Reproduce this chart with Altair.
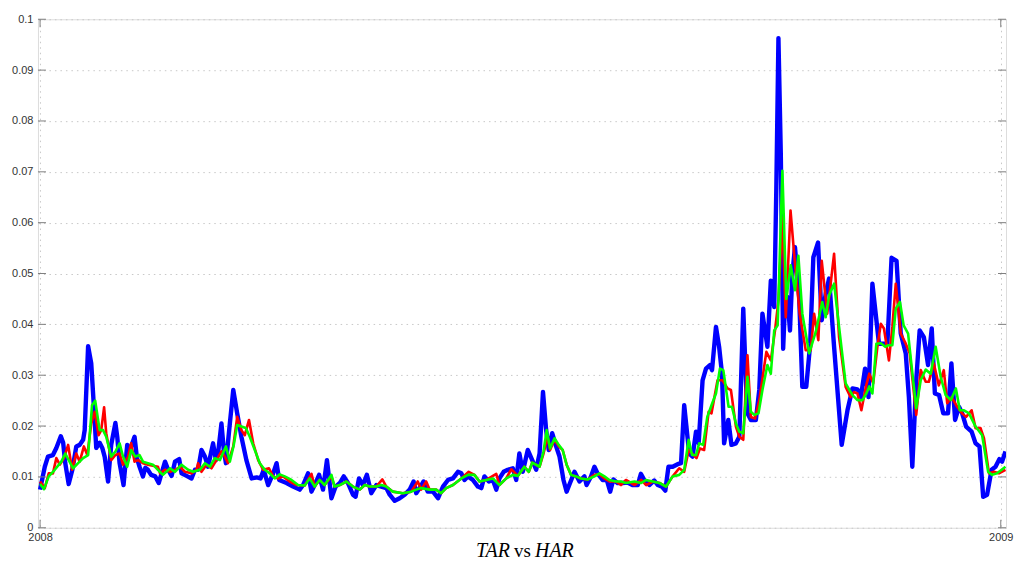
import altair as alt
import pandas as pd

# x = trading day position in days since 2008-01-01, y = volatility value
blue_day = [0, 1.8, 3.0, 4.9, 6.2, 7.9, 8.8, 9.6, 10.9, 12.3, 13.8, 15.1, 16.4, 17.0, 18.3, 19.5, 20.5, 21.4,
            22.7, 23.7, 24.6, 25.9, 27.1, 28.7, 29.4, 30.3, 31.8, 33.2, 33.8, 34.7, 36.0, 36.9, 37.9, 39.2, 40.1,
            41.1, 42.3, 43.9, 45.2, 47.6, 48.8, 50.1, 51.4, 53.0, 53.9, 55.8, 57.7, 59.0, 60.2, 61.5, 62.8, 64.0,
            65.9, 67.0, 67.8, 69.1, 70.0, 70.8, 72.3, 73.6, 75.1, 76.7, 78.6, 80.6, 82.5, 84.0, 85.2, 86.9, 88.8,
            90.1, 91.1, 93.9, 96.4, 98.9, 100.2, 102.1, 103.4, 104.6, 106.3, 107.8, 109.3, 111.0, 112.6, 114.2,
            115.7, 117.3, 119.2, 120.2, 121.5, 123.0, 124.5, 126.2, 128.1, 130.0, 131.9, 133.2, 135.1, 137.0,
            138.9, 140.8, 142.3, 143.3, 144.6, 146.1, 147.7, 149.7, 151.6, 153.5, 155.4, 157.3, 159.2, 160.5,
            161.7, 163.0, 164.9, 166.8, 168.1, 169.3, 171.0, 172.5, 173.8, 175.0, 176.6, 178.2, 180.1, 181.4,
            182.6, 183.9, 185.8, 187.5, 189.0, 190.3, 191.6, 192.8, 193.8, 195.1, 196.6, 197.9, 199.4, 200.6,
            201.9, 203.6, 205.5, 207.4, 208.2, 209.9, 211.2, 212.4, 214.3, 215.9, 217.2, 218.4, 220.0, 221.9,
            223.8, 225.7, 227.7, 228.9, 230.2, 232.1, 234.0, 235.3, 236.9, 238.2, 239.4, 241.0, 242.9, 244.2,
            245.4, 247.3, 248.6, 249.9, 250.9, 252.4, 253.7, 255.2, 256.0, 257.5, 258.7, 259.8, 260.6, 262.2,
            263.4, 265.1, 266.4, 267.9, 268.9, 269.5, 270.8, 272.7, 274.0, 275.2, 277.1, 278.4, 279.7, 280.5,
            281.3, 282.2, 283.1, 283.9, 284.7, 285.7, 286.6, 287.6, 289.2, 290.4, 291.9, 293.4, 294.6, 296.4,
            297.8, 299.3, 300.6, 302.5, 305.4, 307.6, 309.5, 311.4, 312.7, 314.3, 315.6, 317.1, 319.6, 322.8,
            324.4, 326.3, 327.9, 329.8, 331.0, 332.3, 333.8, 335.1, 336.7, 338.3, 339.7, 340.9, 342.5, 344.1,
            345.9, 347.2, 348.6, 350.1, 351.3, 352.8, 354.9, 356.4, 357.9, 359.3, 360.8, 362.5, 364.0, 365.5,
            366.5, 367.8]
blue_val = [0.0075, 0.012, 0.014, 0.0143, 0.0157, 0.018, 0.0167, 0.0127, 0.0086, 0.0114, 0.016, 0.0163, 0.0173,
            0.0192, 0.0357, 0.0323, 0.0238, 0.0157, 0.0167, 0.0157, 0.014, 0.0091, 0.0163, 0.0206, 0.0179, 0.0127,
            0.0084, 0.0163, 0.014, 0.016, 0.0179, 0.0137, 0.012, 0.0101, 0.0118, 0.0114, 0.0104, 0.0101, 0.0088,
            0.013, 0.0114, 0.0102, 0.013, 0.0135, 0.0107, 0.0102, 0.0097, 0.0114, 0.0114, 0.0153, 0.014, 0.012,
            0.0166, 0.0133, 0.0146, 0.0205, 0.0153, 0.0127, 0.0205, 0.0271, 0.0225, 0.0179, 0.0133, 0.0097, 0.0099,
            0.0097, 0.0114, 0.0084, 0.0107, 0.0127, 0.0094, 0.0088, 0.0081, 0.0075, 0.0084, 0.0107, 0.0071, 0.0084,
            0.0104, 0.0075, 0.0133, 0.0058, 0.0081, 0.0088, 0.0101, 0.0088, 0.0065, 0.0061, 0.0097, 0.0084, 0.0104,
            0.0068, 0.0084, 0.0081, 0.0078, 0.0065, 0.0053, 0.0058, 0.0065, 0.0075, 0.0091, 0.0068, 0.0078, 0.0091,
            0.0071, 0.0071, 0.0058, 0.0081, 0.0094, 0.0097, 0.011, 0.0107, 0.0094, 0.0101, 0.0094, 0.0081, 0.0078,
            0.0101, 0.0091, 0.0094, 0.0075, 0.0097, 0.011, 0.0114, 0.0117, 0.0094, 0.0146, 0.011, 0.0153, 0.0133,
            0.0114, 0.0146, 0.0267, 0.0192, 0.0153, 0.0186, 0.016, 0.014, 0.0094, 0.0071, 0.0088, 0.011, 0.0091,
            0.0101, 0.0084, 0.0101, 0.012, 0.0107, 0.0094, 0.0094, 0.0071, 0.0095, 0.0088, 0.0088, 0.0089, 0.0084,
            0.0084, 0.0106, 0.0094, 0.0084, 0.0093, 0.0084, 0.0081, 0.0073, 0.012, 0.012, 0.0125, 0.0127, 0.0241,
            0.0146, 0.014, 0.0189, 0.0166, 0.029, 0.0313, 0.032, 0.031, 0.0395, 0.0356, 0.0303, 0.0166, 0.0212,
            0.0163, 0.0166, 0.0179, 0.0431, 0.029, 0.0225, 0.0212, 0.0212, 0.0271, 0.0421, 0.0356, 0.0486, 0.0434,
            0.0669, 0.0963, 0.0735, 0.0352, 0.0454, 0.0454, 0.0388, 0.0499, 0.0552, 0.0454, 0.0277, 0.0277, 0.0362,
            0.0532, 0.0561, 0.0408, 0.046, 0.049, 0.0356, 0.0163, 0.0231, 0.0274, 0.0272, 0.0257, 0.0313, 0.0257,
            0.048, 0.0362, 0.0362, 0.0531, 0.0525, 0.0382, 0.0343, 0.0257, 0.012, 0.029, 0.0388, 0.0375, 0.032,
            0.0392, 0.0264, 0.0261, 0.0225, 0.0225, 0.0323, 0.0212, 0.0238, 0.0225, 0.0199, 0.0189, 0.0166, 0.016,
            0.0061, 0.0065, 0.0114, 0.012, 0.0135, 0.013, 0.015]

red_day = [0, 1.8, 3.3, 4.9, 6.2, 7.5, 9.1, 10.7, 12.2, 13.8, 15.1, 16.7, 18.0, 19.5, 20.8, 22.3, 23.3, 24.4,
           25.2, 27.1, 28.7, 30.3, 31.6, 33.5, 34.7, 36.0, 37.3, 39.2, 41.1, 43.0, 44.9, 45.7, 47.6, 49.5, 51.4,
           53.3, 55.2, 57.7, 59.6, 60.2, 61.5, 63.4, 65.3, 67.2, 69.1, 70.4, 71.6, 73.6, 75.1, 76.7, 78.0, 79.6,
           81.2, 83.1, 85.0, 87.2, 88.8, 90.7, 92.6, 95.1, 97.7, 100.8, 103.4, 104.6, 106.5, 108.4, 111.0, 112.2,
           114.2, 116.7, 119.2, 121.8, 123.7, 125.6, 128.1, 130.4, 131.9, 134.4, 138.2, 141.4, 143.9, 145.2,
           147.1, 148.4, 150.9, 152.8, 154.7, 157.3, 160.5, 163.3, 165.5, 167.4, 170.0, 173.8, 175.0, 177.6,
           179.5, 182.0, 184.5, 186.2, 187.5, 190.3, 191.8, 193.4, 194.3, 196.0, 197.6, 199.1, 200.6, 202.3,
           204.2, 206.1, 208.6, 211.2, 213.1, 215.0, 216.9, 219.4, 221.3, 223.2, 226.5, 229.0, 230.9, 233.4,
           236.0, 238.5, 241.0, 243.5, 245.4, 247.1, 248.4, 250.1, 251.4, 253.0, 254.7, 255.8, 258.1, 260.0,
           261.9, 263.2, 265.1, 266.4, 267.9, 269.5, 270.8, 272.4, 274.0, 276.7, 278.4, 280.1, 281.3, 282.8,
           284.1, 285.9, 287.6, 289.4, 291.7, 293.6, 294.9, 296.5, 297.8, 299.9, 302.5, 304.4, 306.9, 308.8,
           310.1, 311.4, 312.9, 314.6, 315.9, 317.4, 319.0, 320.3, 321.5, 323.4, 324.7, 326.0, 327.9, 329.8,
           331.3, 333.8, 335.5, 337.4, 338.6, 340.5, 342.4, 344.3, 345.6, 347.3, 349.4, 351.3, 352.8, 354.9,
           356.4, 358.3, 359.6, 361.5, 363.4, 365.3, 367.8]
red_val = [0.0091, 0.0078, 0.0107, 0.0107, 0.0137, 0.0124, 0.0137, 0.0163, 0.0114, 0.0146, 0.013, 0.016, 0.0143,
           0.0205, 0.0228, 0.0182, 0.0192, 0.0237, 0.0186, 0.0133, 0.0143, 0.0146, 0.0124, 0.014, 0.0166, 0.013,
           0.0133, 0.0127, 0.0124, 0.0122, 0.012, 0.0107, 0.0114, 0.011, 0.0114, 0.012, 0.011, 0.0107, 0.0114,
           0.0127, 0.011, 0.0124, 0.0117, 0.0133, 0.015, 0.014, 0.0127, 0.016, 0.0218, 0.0192, 0.0182, 0.0212,
           0.0166, 0.0133, 0.0114, 0.0117, 0.0101, 0.0097, 0.0101, 0.0091, 0.0084, 0.0083, 0.0106, 0.0081, 0.0094,
           0.0084, 0.0101, 0.0081, 0.0084, 0.0091, 0.0081, 0.0075, 0.0084, 0.0081, 0.0081, 0.0095, 0.0081, 0.0071,
           0.0068, 0.0071, 0.0091, 0.0075, 0.0091, 0.0075, 0.0075, 0.0068, 0.0078, 0.0084, 0.0097, 0.011, 0.0104,
           0.0091, 0.0094, 0.0106, 0.0084, 0.0097, 0.0115, 0.0102, 0.012, 0.011, 0.0128, 0.012, 0.0146, 0.0179,
           0.0153, 0.0173, 0.016, 0.0153, 0.0124, 0.0104, 0.0101, 0.0097, 0.0095, 0.0104, 0.0105, 0.0097, 0.0091,
           0.0091, 0.0084, 0.0094, 0.0084, 0.0094, 0.0084, 0.0091, 0.0088, 0.0081, 0.0101, 0.0117, 0.011, 0.0153,
           0.0146, 0.0137, 0.0156, 0.0153, 0.0228, 0.0225, 0.029, 0.029, 0.0274, 0.0271, 0.0199, 0.0179, 0.0173,
           0.0339, 0.0218, 0.0215, 0.0251, 0.0346, 0.0329, 0.0392, 0.0447, 0.061, 0.0414, 0.0624, 0.0519, 0.0421,
           0.0349, 0.0349, 0.0421, 0.0369, 0.0525, 0.0421, 0.0539, 0.0375, 0.0277, 0.0257, 0.0267, 0.0264, 0.0231,
           0.0277, 0.0303, 0.0284, 0.0356, 0.0401, 0.0392, 0.0329, 0.0395, 0.048, 0.0382, 0.0362, 0.0343, 0.0222,
           0.031, 0.0287, 0.0287, 0.0323, 0.028, 0.031, 0.0245, 0.0257, 0.0238, 0.0225, 0.0218, 0.0231, 0.0196,
           0.0196, 0.0176, 0.0107, 0.011, 0.0107, 0.0114]

green_day = [0, 1.5, 3.3, 5.6, 8.1, 9.6, 10.9, 12.6, 14.5, 16.4, 18.3, 19.8, 21.0, 22.7, 24.0, 25.2, 27.1, 28.7,
             30.3, 31.6, 33.2, 34.7, 36.3, 37.9, 39.2, 41.1, 43.0, 44.9, 46.8, 48.1, 49.5, 51.4, 53.9, 56.4, 58.3,
             60.9, 62.8, 64.7, 66.6, 68.5, 70.8, 72.3, 73.8, 75.1, 76.7, 78.4, 79.9, 81.8, 83.7, 85.6, 87.5, 89.4,
             91.3, 93.2, 95.8, 98.3, 100.8, 102.7, 104.6, 106.5, 108.4, 111.0, 112.2, 114.2, 116.7, 119.2, 121.8,
             123.7, 125.6, 128.1, 130.0, 131.9, 134.4, 138.2, 141.4, 143.3, 145.2, 148.4, 150.9, 152.8, 154.7,
             157.3, 160.5, 163.0, 165.5, 167.4, 170.0, 172.5, 175.0, 177.6, 180.1, 182.0, 184.5, 186.2, 187.5,
             190.3, 191.8, 193.0, 194.3, 196.0, 197.6, 199.1, 200.6, 202.3, 204.2, 206.1, 208.6, 211.2, 213.1,
             215.0, 216.9, 219.4, 221.3, 223.2, 226.5, 229.0, 230.9, 233.4, 236.0, 238.5, 241.0, 243.5, 245.4,
             247.1, 248.4, 249.9, 251.1, 252.6, 254.2, 255.8, 257.5, 259.0, 260.3, 261.3, 262.3, 263.6, 265.1,
             266.4, 267.9, 269.5, 270.8, 272.1, 273.7, 275.2, 277.1, 278.4, 279.7, 281.0, 282.8, 284.3, 286.0,
             287.6, 288.9, 290.4, 293.0, 295.5, 298.0, 299.3, 300.6, 302.5, 304.4, 306.9, 309.5, 311.4, 313.3,
             314.8, 315.9, 317.1, 318.6, 320.3, 322.0, 323.2, 324.7, 326.0, 327.6, 329.0, 330.7, 332.2, 333.8,
             335.5, 337.4, 339.3, 341.2, 343.1, 345.0, 347.0, 348.9, 350.4, 352.0, 353.9, 356.4, 358.9, 361.2,
             362.7, 364.6, 367.8]
green_val = [0.0086, 0.0076, 0.0101, 0.0114, 0.013, 0.0146, 0.0133, 0.0117, 0.0127, 0.0137, 0.0143, 0.0241, 0.025,
             0.0192, 0.0192, 0.0179, 0.014, 0.015, 0.0166, 0.014, 0.012, 0.0153, 0.014, 0.0143, 0.013, 0.0127,
             0.0124, 0.0114, 0.0104, 0.011, 0.0117, 0.011, 0.0124, 0.0114, 0.011, 0.0114, 0.0127, 0.012, 0.0137,
             0.0133, 0.016, 0.013, 0.0163, 0.0202, 0.0199, 0.0196, 0.0179, 0.0153, 0.0127, 0.0114, 0.0107, 0.0097,
             0.0105, 0.0101, 0.0094, 0.0084, 0.0083, 0.0097, 0.0081, 0.0094, 0.0084, 0.0104, 0.0081, 0.0084, 0.0091,
             0.0081, 0.0075, 0.0084, 0.0081, 0.0081, 0.0084, 0.0081, 0.0071, 0.0068, 0.0071, 0.0075, 0.0078, 0.0075,
             0.0075, 0.0068, 0.0078, 0.0084, 0.0097, 0.0104, 0.0104, 0.0091, 0.0094, 0.0097, 0.0084, 0.0097, 0.0104,
             0.0102, 0.012, 0.011, 0.0128, 0.012, 0.015, 0.0192, 0.0156, 0.0176, 0.0163, 0.0153, 0.0124, 0.0104,
             0.0101, 0.0097, 0.0095, 0.0101, 0.0107, 0.0101, 0.0094, 0.0091, 0.0091, 0.0088, 0.0091, 0.0088, 0.0094,
             0.0091, 0.0088, 0.0081, 0.0101, 0.0104, 0.0114, 0.0173, 0.0143, 0.0143, 0.0166, 0.0163, 0.0218, 0.0241,
             0.0264, 0.0313, 0.031, 0.0274, 0.0238, 0.0238, 0.0205, 0.0189, 0.0186, 0.0297, 0.0228, 0.0222, 0.0225,
             0.0271, 0.032, 0.0303, 0.0388, 0.0398, 0.0702, 0.045, 0.0516, 0.0467, 0.0535, 0.0421, 0.0343, 0.0385,
             0.0444, 0.0414, 0.0457, 0.048, 0.0395, 0.0284, 0.0261, 0.0251, 0.0251, 0.0264, 0.0278, 0.0264, 0.0362,
             0.0363, 0.0356, 0.0359, 0.0359, 0.0431, 0.0444, 0.0398, 0.0382, 0.031, 0.0235, 0.029, 0.0311, 0.0303,
             0.0356, 0.0297, 0.0261, 0.0251, 0.0274, 0.0231, 0.0231, 0.0225, 0.0199, 0.0182, 0.011, 0.0104, 0.0107,
             0.012]

y_ticks = [0, 0.01, 0.02, 0.03, 0.04, 0.05, 0.06, 0.07, 0.08, 0.09, 0.1]
x_ticks = [0, 366]
x_tick_labels = ["2008", "2009"]
title_parts = ["TAR", "vs", "HAR"]

W, H = 969, 509
xdom = [-0.8, 368]
ydom = [0, 0.1]

xs = alt.Scale(domain=xdom, nice=False, zero=False)
ys = alt.Scale(domain=ydom, nice=False, zero=True)

grid_dash = [1.5, 4]

x_axis = alt.Axis(values=x_ticks, labelExpr="datum.value < 100 ? '%s' : '%s'" % tuple(x_tick_labels), title=None,
                  grid=True, gridDash=grid_dash, gridColor="#c8c8c8", ticks=False, domain=False,
                  labelFont="Liberation Sans", labelFontSize=11, labelColor="#333333", labelPadding=4)
y_axis = alt.Axis(values=y_ticks, format="~g", title=None, grid=True, gridDash=grid_dash,
                  gridColor="#c8c8c8", ticks=False, domain=False, labelFont="Liberation Sans",
                  labelFontSize=11, labelColor="#333333", labelPadding=5)


def series(days, vals, color, width):
    df = pd.DataFrame({"day": days, "value": vals})
    return alt.Chart(df).mark_line(color=color, strokeWidth=width, strokeJoin="round", clip=True).encode(
        x=alt.X("day:Q", scale=xs, axis=x_axis),
        y=alt.Y("value:Q", scale=ys, axis=y_axis),
    )


blue = series(blue_day, blue_val, "#0000ff", 4.4)
red = series(red_day, red_val, "#ff0000", 2.6)
green = series(green_day, green_val, "#00ff00", 2.6)

ytick_df = pd.DataFrame({"v": y_ticks})
xtick_df = pd.DataFrame({"d": x_ticks})
tick_color = "#7f7f7f"
yt_left = alt.Chart(ytick_df).mark_rule(color=tick_color, strokeWidth=1).encode(
    y=alt.Y("v:Q", scale=ys), x=alt.value(0), x2=alt.value(8))
yt_right = alt.Chart(ytick_df).mark_rule(color=tick_color, strokeWidth=1).encode(
    y=alt.Y("v:Q", scale=ys), x=alt.value(W - 8), x2=alt.value(W))
xt_bot = alt.Chart(xtick_df).mark_rule(color=tick_color, strokeWidth=1).encode(
    x=alt.X("d:Q", scale=xs), y=alt.value(H - 8), y2=alt.value(H))
xt_top = alt.Chart(xtick_df).mark_rule(color=tick_color, strokeWidth=1).encode(
    x=alt.X("d:Q", scale=xs), y=alt.value(0), y2=alt.value(8))

# caption "TAR vs HAR" (math italic names, upright "vs") below the axis
cap_tar = alt.Chart(pd.DataFrame({"t": [title_parts[0]]})).mark_text(
    font="Liberation Serif", fontSize=20, fontStyle="italic", baseline="middle", align="right", color="#000000"
).encode(text="t:N", x=alt.value(W / 2 - 12), y=alt.value(H + 23))
cap_vs = alt.Chart(pd.DataFrame({"t": [title_parts[1]]})).mark_text(
    font="Liberation Serif", fontSize=19, baseline="middle", align="center", color="#000000"
).encode(text="t:N", x=alt.value(W / 2 + 0.5), y=alt.value(H + 23))
cap_har = alt.Chart(pd.DataFrame({"t": [title_parts[2]]})).mark_text(
    font="Liberation Serif", fontSize=20, fontStyle="italic", baseline="middle", align="left", color="#000000"
).encode(text="t:N", x=alt.value(W / 2 + 13), y=alt.value(H + 23))

chart = alt.layer(blue, red, green, yt_left, yt_right, xt_bot, xt_top, cap_tar, cap_vs, cap_har).properties(
    width=W, height=H,
    autosize=alt.AutoSizeParams(type="none"),
    padding={"left": 30, "top": 11, "right": 10, "bottom": 38},
).configure_view(stroke="#808080", strokeWidth=1).configure(background="white")

chart.save("out.html", embed_options={"renderer": "svg", "actions": False})
